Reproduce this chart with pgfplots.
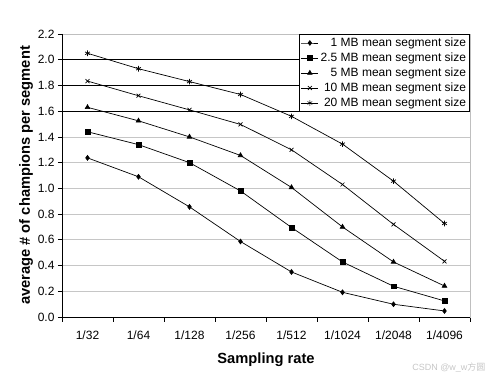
\documentclass[border=0pt]{standalone}
\usepackage{pgfplots}
\pgfplotsset{compat=1.18}
\usepackage{fontspec}
\setmainfont{Liberation Sans}
\newfontfamily\cjk{Noto Sans CJK SC}
\begin{document}
\begin{tikzpicture}
\path[use as bounding box] (-62pt,-62pt) rectangle (430pt,317pt);
\begin{axis}[
  scale only axis, width=408pt, height=283pt,
  xmin=0, xmax=8, ymin=0, ymax=2.2,
  xtick={0.5,1.5,...,7.5},
  xticklabels={1/32,1/64,1/128,1/256,1/512,1/1024,1/2048,1/4096},
  minor xtick={0,1,...,8},
  ytick={0,0.2,...,2.21},
  yticklabel style={/pgf/number format/.cd,fixed,fixed zerofill,precision=1,assume math mode=true},
  ticklabel style={font=\fontsize{12}{14}\selectfont},
  xticklabel style={yshift=-6pt},
  major x tick style={draw=none},
  minor x tick style={black, line width=0.8pt},
  major y tick style={black, line width=0.8pt},
  tick align=outside,
  major tick length=4pt, minor tick length=5pt,
  xtick pos=bottom, ytick pos=left,
  ymajorgrids, major grid style={gray!45, line width=0.8pt},
  extra y ticks={1.6,1.8,2.0},
  extra y tick labels={},
  extra y tick style={grid=major, major grid style={black, line width=0.8pt}, major tick length=0pt},
  axis line style={gray!50, line width=0.8pt},
  xlabel={\bfseries Sampling rate},
  ylabel={\bfseries average \# of champions per segment},
  label style={font=\fontsize{14.7}{16}\selectfont\bfseries},
  xlabel style={yshift=-7pt},
  ylabel style={yshift=-6pt},
  clip=false,
  legend style={at={(1,1)}, anchor=north east, draw=black, line width=0.8pt, fill=white,
    font=\fontsize{12}{13.5}\selectfont, inner sep=1.5pt, row sep=0.8pt,
    cells={anchor=east}, legend cell align=right},
  legend image post style={line width=0.6pt},
  every axis plot/.append style={black, line width=0.7pt, mark options={solid, fill=black}},
]
\draw[black, line width=0.9pt] (rel axis cs:0,1) -- (rel axis cs:0,0) -- (rel axis cs:1,0);
\addplot[mark=diamond*, mark size=2.4pt] coordinates {(0.5,1.237) (1.5,1.09) (2.5,0.856) (3.5,0.587) (4.5,0.350) (5.5,0.192) (6.5,0.099) (7.5,0.047)};
\addlegendentry{\phantom{0}1 MB mean segment size}
\addplot[mark=square*, mark size=2.4pt] coordinates {(0.5,1.44) (1.5,1.34) (2.5,1.20) (3.5,0.98) (4.5,0.696) (5.5,0.428) (6.5,0.239) (7.5,0.125)};
\addlegendentry{2.5 MB mean segment size}
\addplot[mark=triangle*, mark size=2.6pt] coordinates {(0.5,1.63) (1.5,1.525) (2.5,1.40) (3.5,1.256) (4.5,1.007) (5.5,0.70) (6.5,0.428) (7.5,0.241)};
\addlegendentry{\phantom{0}5 MB mean segment size}
\addplot[mark=x, mark size=2.8pt] coordinates {(0.5,1.834) (1.5,1.72) (2.5,1.61) (3.5,1.497) (4.5,1.30) (5.5,1.03) (6.5,0.72) (7.5,0.433)};
\addlegendentry{10 MB mean segment size}
\addplot[mark=asterisk, mark size=2.8pt] coordinates {(0.5,2.05) (1.5,1.93) (2.5,1.83) (3.5,1.73) (4.5,1.56) (5.5,1.344) (6.5,1.056) (7.5,0.727)};
\addlegendentry{20 MB mean segment size}
\end{axis}
\node[anchor=east, text=gray!45, font=\fontsize{9}{10}\selectfont] at (427pt,-51pt) {CSDN @w\_w{\cjk 方圆}};
\end{tikzpicture}
\end{document}
